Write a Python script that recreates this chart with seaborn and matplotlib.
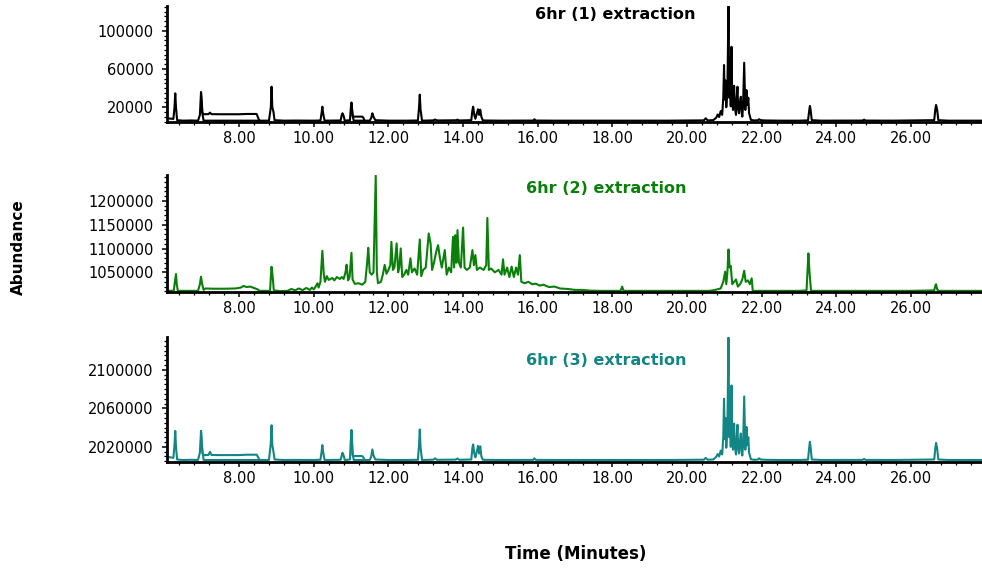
import matplotlib
matplotlib.use("Agg")
import matplotlib.pyplot as plt
from matplotlib.ticker import MultipleLocator
import pandas as pd
import seaborn as sns

# ---------------------------------------------------------------------------
# Total ion chromatograms of three 6 hr extractions (time in minutes)
# ---------------------------------------------------------------------------

# Extraction 1: main trace
run1_time = [6.07, 6.24, 6.27, 6.29, 6.31, 6.34, 6.50, 6.70, 6.90, 6.95, 6.98, 7.01, 7.05,
             7.50, 8.00, 8.50, 8.80, 8.85, 8.87, 8.89, 8.92, 8.95, 9.20, 9.50, 10.00, 10.18,
             10.21, 10.23, 10.25, 10.29, 10.72, 10.75, 10.77, 10.80, 10.83, 10.97, 10.99,
             11.01, 11.04, 11.07, 11.50, 11.54, 11.57, 11.60, 11.65, 12.00, 12.50, 12.79,
             12.82, 12.84, 12.86, 12.90, 13.20, 13.25, 13.30, 13.80, 13.85, 13.90, 14.22,
             14.25, 14.27, 14.30, 14.33, 14.38, 14.40, 14.43, 14.46, 14.49, 14.53, 15.00,
             15.50, 15.88, 15.91, 15.95, 16.50, 17.50, 18.50, 19.50, 20.45, 20.50, 20.55,
             20.70, 20.78, 20.82, 20.86, 20.90, 20.94, 20.97, 20.99, 21.01, 21.03, 21.05,
             21.08, 21.11, 21.13, 21.15, 21.17, 21.19, 21.21, 21.23, 21.26, 21.28, 21.31,
             21.33, 21.35, 21.37, 21.39, 21.41, 21.44, 21.46, 21.48, 21.50, 21.53, 21.56,
             21.59, 21.62, 21.64, 21.66, 21.71,
             21.80, 21.90, 21.93, 21.97, 22.10, 22.50, 23.00, 23.24, 23.27, 23.29, 23.31,
             23.34, 23.60, 24.00, 24.70, 24.74, 24.78, 25.50, 26.00, 26.62, 26.65, 26.67,
             26.70, 26.73, 27.00, 27.50, 27.90]
run1_abund = [8500, 7800, 20000, 34600, 20000, 6500, 6000, 6200, 6000, 12000, 35700, 15000, 6000,
              6000, 6000, 6000, 6000, 20000, 41500, 20000, 15400, 6500, 6000, 6100, 6000, 6200,
              14000, 20600, 14000, 6000, 6200, 12000, 13700, 11000, 6000, 6500, 18000,
              24800, 12000, 6000, 6000, 9000, 13700, 10000, 6500, 6000, 6000, 6200,
              20000, 33200, 18000, 6000, 6300, 7200, 6200, 6400, 7000, 6200, 6500,
              17000, 20600, 12000, 8000, 15000, 17900, 12000, 17500, 10000, 6200, 6000,
              6000, 6100, 7500, 6100, 6000, 6000, 6000, 6000, 6300, 8500, 6300,
              6500, 9000, 12500, 9800, 16000, 12000, 30000, 64200, 28000, 48000, 20000,
              38000, 125700, 30000, 58000, 21000, 83300, 26000, 17200, 42500, 20000, 12000,
              30000, 41500, 18000, 13700, 24000, 31000, 15000, 10200, 22000, 66600, 17200,
              38000, 22400, 30000, 14000, 6800,
              6200, 6500, 7500, 6500, 6200, 6000, 6000, 6300, 16000, 21400, 17000,
              6500, 6000, 6000, 6100, 7000, 6100, 6000, 6200, 6500, 18000, 22400,
              17000, 6500, 6000, 6000, 6000]
# Extraction 1: raised shelves following the 7.0 and 11.0 min peaks
run1_shelf1_time = [6.98, 7.02, 7.06, 7.18, 7.22, 7.26, 7.50, 8.00, 8.20, 8.47, 8.52, 8.55]
run1_shelf1_abund = [35700, 14000, 12700, 12800, 14400, 12800, 12700, 12700, 13000, 13000, 8000, 6000]
run1_shelf2_time = [11.01, 11.04, 11.08, 11.30, 11.33, 11.36]
run1_shelf2_abund = [24800, 11000, 10200, 10200, 9000, 6000]

# Extraction 2: main trace
run2_time = [6.07, 6.25, 6.28, 6.31, 6.33, 6.36, 6.60, 6.90, 6.95, 6.98, 7.01, 7.05, 7.10,
             7.30, 7.60, 7.90, 8.05, 8.12, 8.20, 8.30, 8.40, 8.50, 8.55, 8.83, 8.85, 8.87,
             8.90, 8.93, 9.10, 9.30, 9.40, 9.50, 9.60, 9.70, 9.80, 9.90, 9.95, 10.00, 10.05,
             10.10, 10.13, 10.18, 10.23, 10.27, 10.30, 10.35, 10.40, 10.50, 10.55, 10.62,
             10.70, 10.75, 10.80, 10.85, 10.88, 10.92, 10.96, 11.01, 11.04, 11.10, 11.20,
             11.30, 11.38, 11.43, 11.46, 11.50, 11.55, 11.60, 11.66, 11.69, 11.72, 11.80,
             11.85, 11.90, 11.95, 12.00, 12.05, 12.08, 12.12, 12.16, 12.22, 12.26, 12.29,
             12.33, 12.37, 12.42, 12.48, 12.53, 12.59, 12.63, 12.70, 12.77, 12.84, 12.88,
             12.93, 13.00, 13.08, 13.13, 13.17, 13.22, 13.28, 13.33, 13.38, 13.43, 13.51,
             13.56, 13.62, 13.68, 13.73, 13.76, 13.79, 13.82, 13.85, 13.89, 13.94, 14.00,
             14.04, 14.10, 14.18, 14.25, 14.29, 14.33, 14.37, 14.45, 14.55, 14.62, 14.65,
             14.69, 14.75, 14.85, 14.95, 15.03, 15.07, 15.11, 15.18, 15.24, 15.30, 15.36,
             15.42, 15.47, 15.52, 15.56, 15.65, 15.75, 15.85, 15.95, 16.05, 16.15, 16.30,
             16.45, 16.60, 16.80, 17.00, 17.20, 17.40, 17.70, 18.00, 18.22, 18.26, 18.30,
             19.00, 20.00, 20.60, 20.75, 20.90, 20.97, 21.02, 21.05, 21.08, 21.11, 21.14,
             21.17, 21.21, 21.26, 21.31, 21.36, 21.42, 21.48, 21.53, 21.57, 21.63, 21.68,
             21.73, 21.76, 22.20, 23.00, 23.20, 23.23, 23.25, 23.28, 23.32, 24.00, 25.00,
             26.00, 26.62, 26.65, 26.67, 26.70, 26.74, 27.90]
run2_abund = [1011500, 1011000, 1030000, 1046400, 1025000, 1011000, 1011000, 1011000, 1025000,
              1040800, 1025000, 1013000, 1016000, 1015500, 1015500, 1016000, 1018000, 1021300,
              1019000, 1020000, 1017000, 1014000, 1011000, 1011000, 1040000, 1061700, 1040000,
              1012000, 1010500, 1011000, 1015000, 1012000, 1016000, 1012500, 1017000, 1013000,
              1018000, 1014000, 1020000, 1027000, 1018000, 1030000, 1095200, 1045000, 1030000,
              1042000, 1034000, 1038000, 1033000, 1040000, 1036000, 1040000, 1036000, 1050000,
              1066000, 1033000, 1040000, 1091000, 1035000, 1025700, 1027000, 1024000, 1030000,
              1070000, 1101500, 1050000, 1045000, 1050000, 1253500, 1050000, 1027000, 1030000,
              1045000, 1065600, 1047000, 1055000, 1065000, 1114000, 1055000, 1060000, 1110700,
              1050000, 1060000, 1100200, 1040000, 1045000, 1055000, 1045000, 1079300, 1050000,
              1058000, 1045000, 1119000, 1042000, 1055000, 1060000, 1131600, 1110000, 1055000,
              1070000, 1093100, 1107100, 1080000, 1060000, 1096700, 1045000, 1060000, 1050000,
              1124500, 1060000, 1128000, 1070000, 1138500, 1070000, 1060000, 1144000, 1060000,
              1055000, 1060000, 1096700, 1065000, 1086200, 1055000, 1060000, 1055000, 1065000,
              1164300, 1055000, 1058000, 1050000, 1055000, 1045000, 1077200, 1045000, 1060000,
              1040000, 1062000, 1040000, 1060000, 1045000, 1086200, 1030000, 1027000, 1030000,
              1025000, 1026000, 1022000, 1024000, 1019000, 1020000, 1016000, 1015000, 1013000,
              1013000, 1011500, 1011000, 1011000, 1011000, 1020000, 1011000, 1011000, 1011000,
              1011000, 1013000, 1016000, 1030000, 1051300, 1025000, 1050000, 1098000, 1060000,
              1063200, 1025000, 1030000, 1035000, 1020000, 1025000, 1035000, 1053400, 1030000,
              1033000, 1025000, 1037400, 1011000, 1011000, 1011000, 1012000, 1060000, 1089700,
              1050000, 1011000, 1011000, 1011000, 1011000, 1012000, 1022000, 1025000, 1014000,
              1011000, 1011000]

# Extraction 3: main trace
run3_time = [6.07, 6.24, 6.27, 6.29, 6.31, 6.34, 6.50, 6.70, 6.90, 6.95, 6.98, 7.01, 7.05,
             7.50, 8.00, 8.50, 8.80, 8.85, 8.87, 8.89, 8.92, 8.95, 9.20, 9.50, 10.00, 10.18,
             10.21, 10.23, 10.25, 10.29, 10.72, 10.75, 10.77, 10.80, 10.83, 10.97, 10.99,
             11.01, 11.04, 11.07, 11.50, 11.54, 11.57, 11.60, 11.65, 12.00, 12.50, 12.79,
             12.82, 12.84, 12.86, 12.90, 13.20, 13.25, 13.30, 13.80, 13.85, 13.90, 14.22,
             14.25, 14.27, 14.30, 14.33, 14.38, 14.40, 14.43, 14.46, 14.49, 14.53, 15.00,
             15.50, 15.88, 15.91, 15.95, 16.50, 17.50, 18.50, 19.50, 20.45, 20.50, 20.55,
             20.70, 20.78, 20.82, 20.86, 20.90, 20.94, 20.97, 20.99, 21.01, 21.03, 21.05,
             21.08, 21.11, 21.13, 21.15, 21.17, 21.19, 21.21, 21.23, 21.26, 21.28, 21.31,
             21.33, 21.35, 21.37, 21.39, 21.41, 21.44, 21.46, 21.48, 21.50, 21.53, 21.56,
             21.59, 21.62, 21.64, 21.66, 21.71,
             21.80, 21.90, 21.93, 21.97, 22.10, 22.50, 23.00, 23.24, 23.27, 23.29, 23.31,
             23.34, 23.60, 24.00, 24.70, 24.74, 24.78, 25.50, 26.00, 26.62, 26.65, 26.67,
             26.70, 26.73, 27.00, 27.50, 27.90]
run3_abund = [2009700, 2008500, 2022000, 2036500, 2020000, 2006800, 2006300, 2006500, 2006300,
              2014000, 2036500, 2018000, 2006300, 2006300, 2006300, 2006300, 2006300, 2024000,
              2042400, 2022000, 2015000, 2006800, 2006300, 2006400, 2006300, 2006500, 2015000,
              2021800, 2015000, 2006300, 2006500, 2011000, 2013800, 2011000, 2006300, 2006800,
              2025000, 2037300, 2014000, 2006300, 2006300, 2010000, 2017300, 2011000, 2006800,
              2006300, 2006300, 2006500, 2022000, 2038000, 2020000, 2006300, 2006600, 2008000,
              2006500, 2006700, 2007800, 2006500, 2006800, 2019000, 2022500, 2013000, 2009000,
              2017000, 2021000, 2013000, 2020500, 2010000, 2006500, 2006300, 2006300, 2006400,
              2008000, 2006400, 2006300, 2006300, 2006300, 2006300, 2006600, 2008500, 2006600,
              2006800, 2009500, 2012500, 2010000, 2016000, 2012000, 2030000, 2070000, 2028000,
              2050000, 2019000, 2040000, 2133700, 2030000, 2060000, 2020000, 2083800, 2025000,
              2017000, 2044200, 2020000, 2012000, 2030000, 2043000, 2018000, 2013000, 2024000,
              2033800, 2015000, 2011000, 2022000, 2072400, 2017000, 2040700, 2022000, 2030000,
              2014000, 2007000,
              2006500, 2006800, 2008000, 2006800, 2006500, 2006300, 2006300, 2006600, 2019000,
              2025200, 2019000, 2006800, 2006300, 2006300, 2006400, 2007500, 2006400, 2006300,
              2006500, 2006800, 2019000, 2024100, 2018000, 2006800, 2006300, 2006300, 2006300]
# Extraction 3: raised shelves following the 7.0 and 11.0 min peaks
run3_shelf1_time = [6.98, 7.02, 7.06, 7.18, 7.22, 7.26, 7.50, 8.00, 8.20, 8.47, 8.52, 8.55]
run3_shelf1_abund = [2036500, 2013000, 2011400, 2011500, 2014800, 2011500, 2011400, 2011400,
                     2011800, 2011800, 2008500, 2006300]
run3_shelf2_time = [11.01, 11.04, 11.08, 11.30, 11.33, 11.36]
run3_shelf2_abund = [2037300, 2011000, 2010400, 2010400, 2009000, 2006300]

# Axis ticks and labels
x_ticks = [8, 10, 12, 14, 16, 18, 20, 22, 24, 26]
x_tick_labels = ["8.00", "10.00", "12.00", "14.00", "16.00", "18.00", "20.00", "22.00",
                 "24.00", "26.00"]
run1_yticks = [20000, 60000, 100000]
run2_yticks = [1050000, 1100000, 1150000, 1200000]
run3_yticks = [2020000, 2060000, 2100000]
run_titles = ["6hr (1) extraction", "6hr (2) extraction", "6hr (3) extraction"]
run_colors = ["#000000", "#0a800a", "#138585"]


def trace_frame(*segments):
    """Stack (time, abundance) segments into one long frame with a segment id."""
    parts = []
    for i, (t, a) in enumerate(segments):
        parts.append(pd.DataFrame({"time": t, "abundance": a, "segment": i}))
    return pd.concat(parts, ignore_index=True)


panels = [
    dict(df=trace_frame((run1_time, run1_abund), (run1_shelf1_time, run1_shelf1_abund),
                        (run1_shelf2_time, run1_shelf2_abund)),
         ylim=(4300, 126000), yticks=run1_yticks, yminor=5000,
         rect=[0.1701, 0.7866, 0.8299, 0.2030], title_xy=(0.6268, 0.9747)),
    dict(df=trace_frame((run2_time, run2_abund)),
         ylim=(1008000, 1254500), yticks=run2_yticks, yminor=10000,
         rect=[0.1701, 0.4899, 0.8299, 0.2047], title_xy=(0.6176, 0.6702)),
    dict(df=trace_frame((run3_time, run3_abund), (run3_shelf1_time, run3_shelf1_abund),
                        (run3_shelf2_time, run3_shelf2_abund)),
         ylim=(2004500, 2134500), yticks=run3_yticks, yminor=5000,
         rect=[0.1701, 0.1942, 0.8299, 0.2182], title_xy=(0.6176, 0.3705)),
]

sns.set_style("ticks")
plt.rcParams["font.family"] = ["DejaVu Sans"]
plt.rcParams["text.color"] = "black"

fig = plt.figure(figsize=(9.82, 5.73), dpi=100)

for p, title, color in zip(panels, run_titles, run_colors):
    ax = fig.add_axes(p["rect"])
    sns.lineplot(data=p["df"], x="time", y="abundance", units="segment", estimator=None,
                 sort=False, color=color, linewidth=1.5, ax=ax, legend=False)
    ax.set_xlim(6.07, 27.9)
    ax.set_ylim(*p["ylim"])
    ax.set_xlabel("")
    ax.set_ylabel("")
    ax.set_xticks(x_ticks, labels=x_tick_labels)
    ax.xaxis.set_minor_locator(MultipleLocator(0.4))
    ax.set_yticks(p["yticks"], labels=[str(v) for v in p["yticks"]])
    ax.yaxis.set_minor_locator(MultipleLocator(p["yminor"]))
    ax.tick_params(axis="both", which="major", direction="out", length=3.5, width=1.1,
                   labelsize=10.5, colors="black")
    ax.tick_params(axis="x", which="major", pad=3)
    ax.tick_params(axis="y", which="major", pad=6)
    ax.tick_params(axis="both", which="minor", direction="out", length=2.2, width=0.9,
                   colors="black")
    for side in ("top", "right"):
        ax.spines[side].set_visible(False)
    for side in ("left", "bottom"):
        ax.spines[side].set_linewidth(2.0)
        ax.spines[side].set_color("black")
    ax.patch.set_alpha(0)
    fig.text(*p["title_xy"], title, color=color, fontsize=11.5, fontweight="bold",
             ha="center", va="center")

fig.text(0.0188, 0.568, "Abundance", rotation=90, fontsize=11, fontweight="bold",
         color="black", ha="center", va="center")
fig.text(0.586, 0.034, "Time (Minutes)", fontsize=12, fontweight="bold",
         color="black", ha="center", va="center")

fig.savefig("out.png", dpi=100, facecolor="white")
